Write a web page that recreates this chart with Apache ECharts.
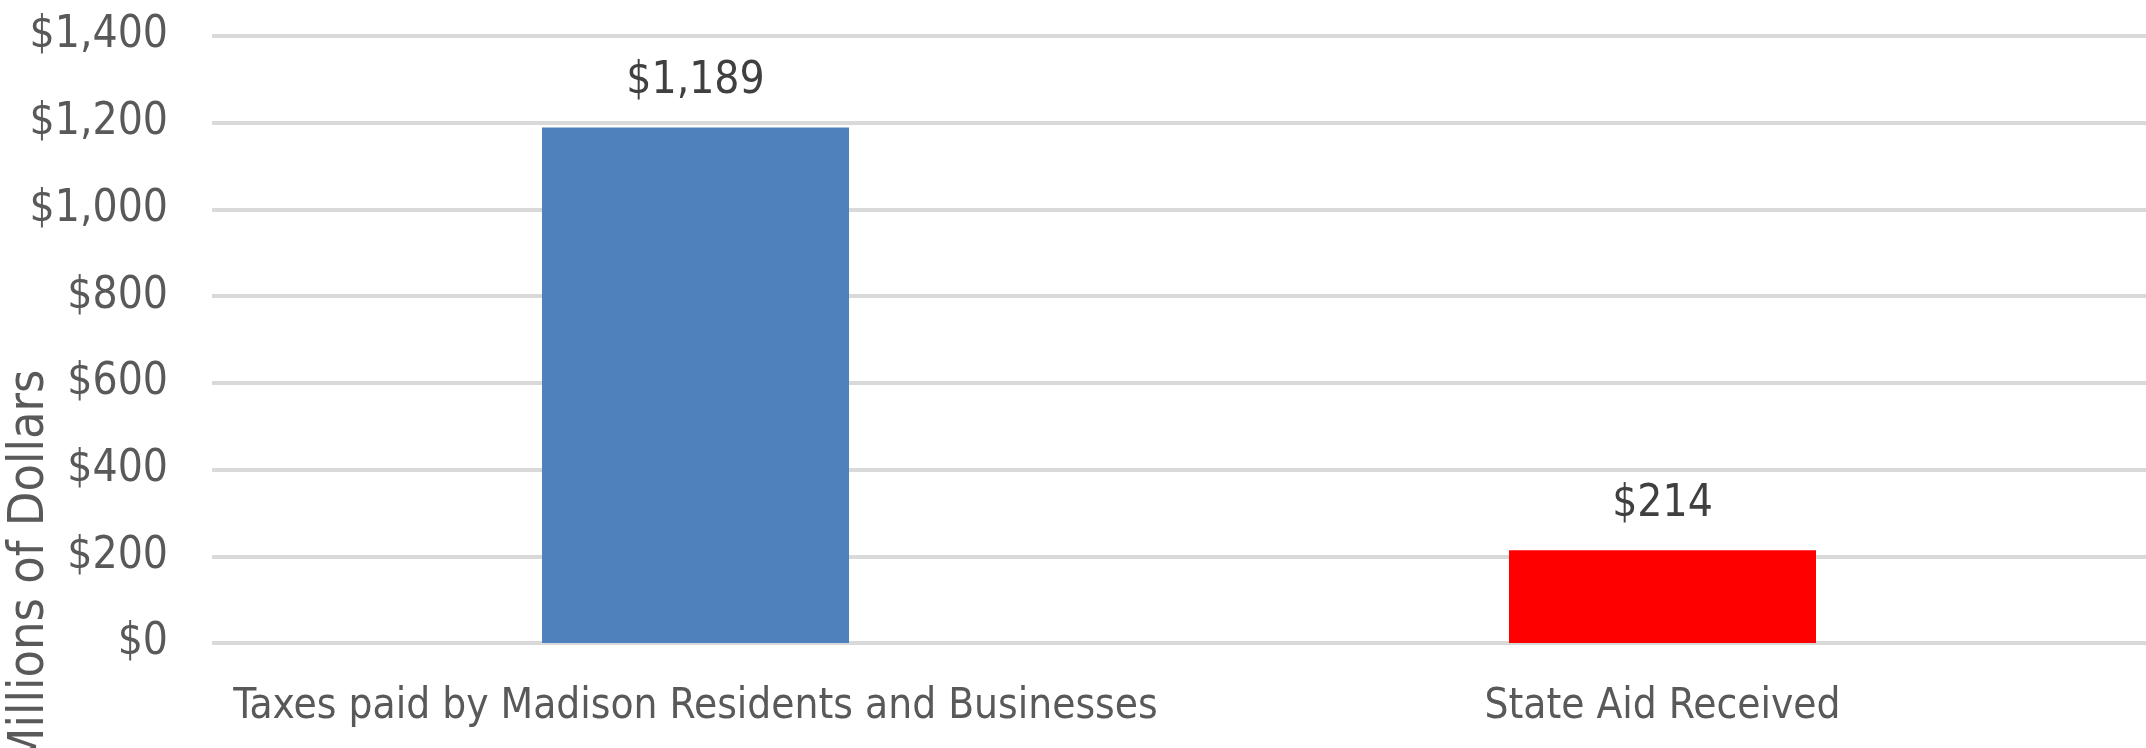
<!DOCTYPE html>
<html>
<head>
<meta charset="utf-8">
<script src="https://cdn.jsdelivr.net/npm/echarts@6/dist/echarts.min.js"></script>
<style>
  html, body { margin: 0; padding: 0; background: #fff; }
  #container { width: 2146px; height: 748px; }
</style>
</head>
<body>
<div id="container"></div>
<script>
var categories = ['Taxes paid by Madison Residents and Businesses', 'State Aid Received'];
var values = [1189, 214];
var barColors = ['#4f81bd', '#ff0000'];
var axisName = 'Millions of Dollars';

var font = "'Liberation Sans Narrow', 'DejaVu Sans Condensed', sans-serif";

var dom = document.getElementById('container');
var myChart = echarts.init(dom);

function money(v) {
    return '$' + v.toLocaleString('en-US');
}

var option = {
    animation: false,
    grid: {
        left: 212,
        top: 36,
        bottom: 105,
        width: 1945
    },
    xAxis: {
        type: 'category',
        data: categories,
        axisLine: { show: false },
        axisTick: { show: false },
        axisLabel: {
            interval: 0,
            color: '#595959',
            fontSize: 42,
            fontFamily: font,
            margin: 43
        }
    },
    yAxis: {
        type: 'value',
        min: 0,
        max: 1400,
        interval: 200,
        axisLine: { show: false },
        axisTick: { show: false },
        splitLine: { lineStyle: { color: '#d9d9d9', width: 4 } },
        axisLabel: {
            color: '#595959',
            fontSize: 44,
            fontFamily: font,
            margin: 44,
            formatter: money
        }
    },
    graphic: [{
        type: 'text',
        x: 30,
        y: 568,
        rotation: Math.PI / 2,
        style: {
            text: axisName,
            fill: '#595959',
            font: '50px ' + font,
            align: 'center',
            verticalAlign: 'middle'
        }
    }],
    series: [{
        type: 'bar',
        barWidth: 307,
        data: values.map(function (v, i) {
            return { value: v, itemStyle: { color: barColors[i] } };
        }),
        label: {
            show: true,
            position: 'top',
            distance: 24,
            color: '#404040',
            fontSize: 44,
            fontFamily: font,
            formatter: function (p) { return money(p.value); }
        }
    }]
};

myChart.setOption(option, true);
</script>
</body>
</html>
